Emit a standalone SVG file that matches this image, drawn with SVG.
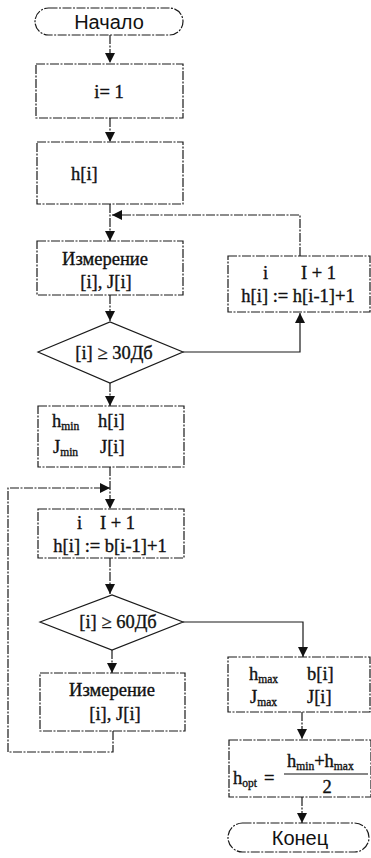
<svg xmlns="http://www.w3.org/2000/svg" width="371" height="858" viewBox="0 0 371 858">
<style>
.s{fill:none;stroke:#1a1a1a;stroke-width:1.2;stroke-dasharray:9 1.5 2 1.5}
.d{fill:none;stroke:#1a1a1a;stroke-width:1.2}
.c{fill:none;stroke:#1a1a1a;stroke-width:1.2;stroke-dasharray:9 1.5 2 1.5}
.t{font-family:"Liberation Serif","Times New Roman",serif;font-size:18.5px;fill:#111;stroke:#111;stroke-width:0.35}
.a{font-family:"Liberation Sans",Arial,sans-serif;font-size:20px;fill:#111}
.sub{font-size:11.5px}
</style>
<defs>
<marker id="ar" markerUnits="userSpaceOnUse" markerWidth="12" markerHeight="12" refX="10" refY="5" orient="auto">
<path d="M0,0 L10,5 L0,10 Z" fill="#111"/>
</marker>
</defs>
<rect width="371" height="858" fill="#fff"/>
<g id="connectors">
<path class="c" d="M110,35 V63" marker-end="url(#ar)"/>
<path class="c" d="M110,118 V142" marker-end="url(#ar)"/>
<path class="c" d="M110,204 V241" marker-end="url(#ar)"/>
<path class="c" d="M300,256 V215 H112" marker-end="url(#ar)"/>
<path class="c" d="M110,295 V321" marker-end="url(#ar)"/>
<path class="d" d="M183,352 H300 V313" marker-end="url(#ar)"/>
<path class="c" d="M110,383 V406" marker-end="url(#ar)"/>
<path class="c" d="M110,467 V509" marker-end="url(#ar)"/>
<path class="c" d="M113,731 V752 H8 V488 H110" marker-end="url(#ar)"/>
<path class="c" d="M110,558 V594" marker-end="url(#ar)"/>
<path class="d" d="M183,622 H303 V657" marker-end="url(#ar)"/>
<path class="c" d="M112,650 V673" marker-end="url(#ar)"/>
<path class="c" d="M302,712 V739" marker-end="url(#ar)"/>
<path class="c" d="M302,797 V823" marker-end="url(#ar)"/>
</g>
<g id="start">
<rect class="s" x="35" y="8" width="148" height="27" rx="13.5"/>
<text class="a" x="109" y="29" text-anchor="middle">Начало</text>
</g>
<g id="init">
<rect class="s" x="36" y="64" width="147" height="54"/>
<text class="t" x="109" y="98" text-anchor="middle">i= 1</text>
</g>
<g id="input-h">
<rect class="s" x="37" y="142" width="146" height="62"/>
<text class="t" x="71" y="180">h[i]</text>
</g>
<g id="measure1">
<rect class="s" x="37" y="241" width="146" height="54"/>
<text class="t" x="105" y="265" text-anchor="middle">Измерение</text>
<text class="t" x="106" y="288" text-anchor="middle">[i], J[i]</text>
</g>
<g id="increment1">
<rect class="s" x="228" y="256" width="142" height="56"/>
<text class="t" x="263" y="279">i</text>
<text class="t" x="301" y="279">I + 1</text>
<text class="t" x="298" y="302" text-anchor="middle">h[i] := h[i-1]+1</text>
</g>
<g id="cond30">
<path class="d" d="M38,352 L110,322 L183,352 L110,383 Z"/>
<text class="t" x="114" y="359" text-anchor="middle">[i] ≥ 30Дб</text>
</g>
<g id="store-min">
<rect class="s" x="38" y="406" width="146" height="61"/>
<text class="t" x="52" y="427">h<tspan class="sub" dy="3">min</tspan></text>
<text class="t" x="98" y="427">h[i]</text>
<text class="t" x="53" y="453">J<tspan class="sub" dy="3">min</tspan></text>
<text class="t" x="100" y="453">J[i]</text>
</g>
<g id="increment2">
<rect class="s" x="38" y="509" width="146" height="49"/>
<text class="t" x="77" y="529">i</text>
<text class="t" x="100" y="529">I + 1</text>
<text class="t" x="110" y="552" text-anchor="middle">h[i] := b[i-1]+1</text>
</g>
<g id="cond60">
<path class="d" d="M40,622 L112,595 L183,622 L112,650 Z"/>
<text class="t" x="118" y="628" text-anchor="middle">[i] ≥ 60Дб</text>
</g>
<g id="store-max">
<rect class="s" x="228" y="657" width="142" height="55"/>
<text class="t" x="249" y="680">h<tspan class="sub" dy="3">max</tspan></text>
<text class="t" x="307" y="680">b[i]</text>
<text class="t" x="250" y="703">J<tspan class="sub" dy="3">max</tspan></text>
<text class="t" x="307" y="703">J[i]</text>
</g>
<g id="measure2">
<rect class="s" x="40" y="673" width="145" height="58"/>
<text class="t" x="112" y="696" text-anchor="middle">Измерение</text>
<text class="t" x="115" y="720" text-anchor="middle">[i], J[i]</text>
</g>
<g id="optimum">
<rect class="s" x="229" y="740" width="142" height="57"/>
<text class="t" x="233" y="784">h<tspan class="sub" dy="3">opt</tspan></text>
<text class="t" x="264" y="784">=</text>
<text class="t" x="287" y="767">h<tspan class="sub" dy="3">min</tspan><tspan dy="-3">+h</tspan><tspan class="sub" dy="3">max</tspan></text>
<line x1="284" y1="774" x2="368" y2="774" stroke="#111" stroke-width="1.2"/>
<text class="t" x="327" y="793" text-anchor="middle">2</text>
</g>
<g id="end">
<rect class="s" x="228" y="823" width="141" height="29" rx="14.5"/>
<text class="a" x="300" y="845" text-anchor="middle">Конец</text>
</g>
</svg>
